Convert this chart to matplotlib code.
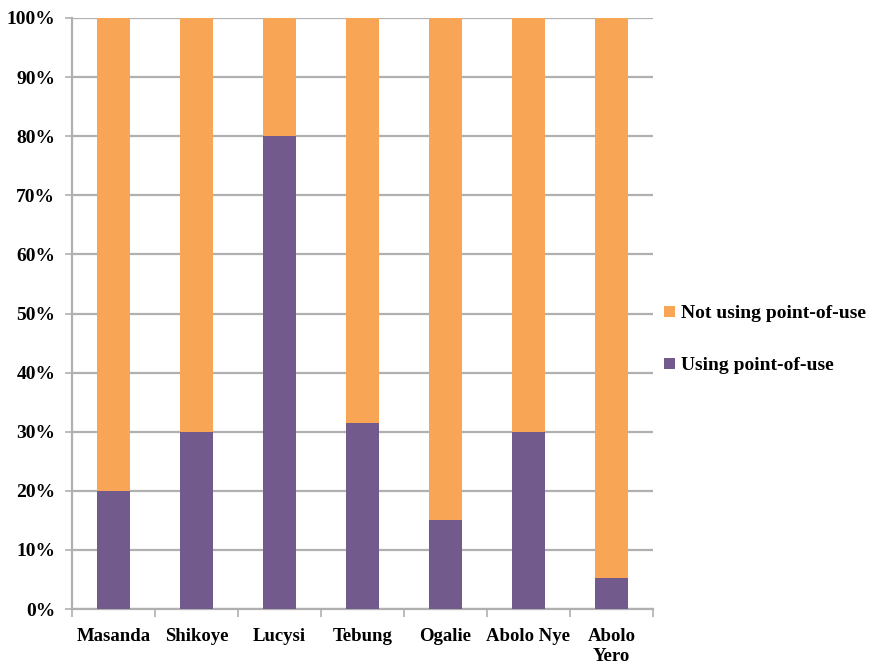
import matplotlib
matplotlib.use("Agg")
import matplotlib.pyplot as plt
from matplotlib.ticker import PercentFormatter, FixedLocator

categories = ["Masanda", "Shikoye", "Lucysi", "Tebung", "Ogalie", "Abolo Nye", "Abolo\nYero"]
using_pou = [20, 30, 80, 31.5, 15, 30, 5.2]
not_using_pou = [100 - v for v in using_pou]

purple = "#735a8c"
orange = "#f8a656"
grid_gray = "#b0b0b0"

plt.rcParams["font.family"] = ["Liberation Serif", "DejaVu Serif"]
plt.rcParams["font.weight"] = "bold"

fig = plt.figure(figsize=(8.7, 6.64), dpi=100)
ax = fig.add_axes([72 / 870, 1 - 609 / 664, (653 - 72) / 870, (609 - 18) / 664])

# stacked columns, 150% gap between them
x = list(range(len(categories)))
b1 = ax.bar(x, using_pou, width=0.4, color=purple, label="Using point-of-use", zorder=3)
b2 = ax.bar(x, not_using_pou, bottom=using_pou, width=0.4, color=orange,
            label="Not using point-of-use", zorder=3)

ax.set_xlim(-0.5, len(categories) - 0.5)
ax.set_ylim(0, 100)
ax.set_yticks(range(0, 101, 10))
ax.yaxis.set_major_formatter(PercentFormatter(decimals=0))
ax.grid(axis="y", color=grid_gray, linewidth=1.6, zorder=0)
ax.set_axisbelow(True)

ax.set_xticks(x)
ax.set_xticklabels(categories, fontsize=13.5, fontweight="bold", va="top")
ax.tick_params(axis="x", length=0, pad=14)
ax.xaxis.set_minor_locator(FixedLocator([i - 0.5 for i in range(len(categories) + 1)]))
ax.tick_params(axis="x", which="minor", length=6, color=grid_gray, width=1.2)
ax.tick_params(axis="y", length=5, color=grid_gray, width=1.2, labelsize=14, pad=7)
for lab in ax.get_yticklabels():
    lab.set_fontweight("bold")

for side in ["top", "right"]:
    ax.spines[side].set_visible(False)
for side in ["left", "bottom"]:
    ax.spines[side].set_color(grid_gray)
    ax.spines[side].set_linewidth(1.6)

handles = [b2, b1]
leg = fig.legend(handles, [h.get_label() for h in handles], loc="center left",
                 bbox_to_anchor=(664 / 870, 1 - 340 / 664), frameon=False,
                 fontsize=14, handlelength=0.55, handleheight=0.55,
                 handletextpad=0.3, labelspacing=1.8, borderpad=0,
                 borderaxespad=0)
for t in leg.get_texts():
    t.set_fontweight("bold")

fig.savefig("out.png", dpi=100)
